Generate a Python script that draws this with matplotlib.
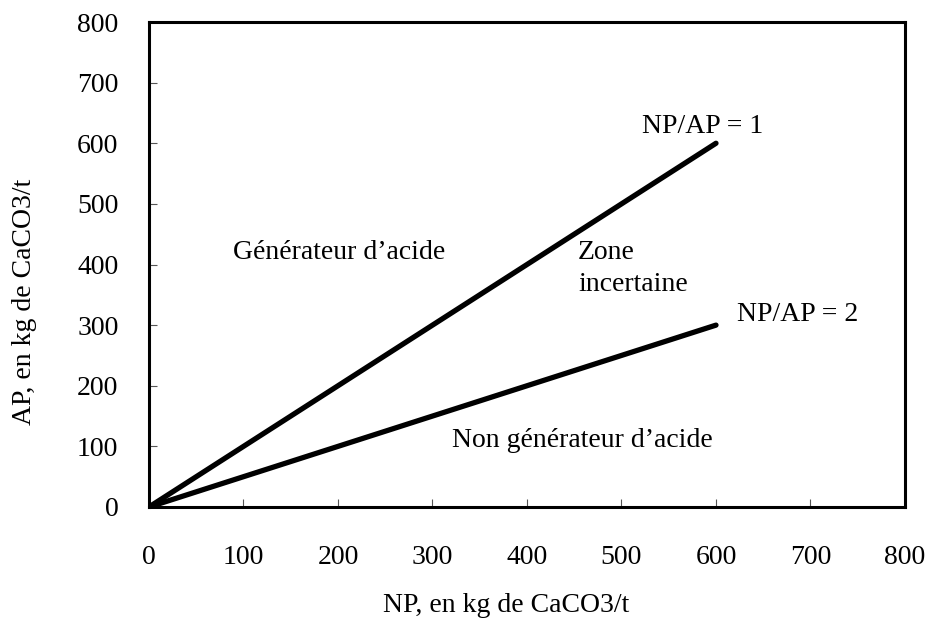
import matplotlib
matplotlib.use("Agg")
import matplotlib.pyplot as plt

# Data
np_vals = [0, 600]
ap_ratio1 = [0, 600]   # NP/AP = 1
ap_ratio2 = [0, 300]   # NP/AP = 2
x_ticks = [0, 100, 200, 300, 400, 500, 600, 700, 800]
y_ticks = [0, 100, 200, 300, 400, 500, 600, 700, 800]

plt.rcParams['font.family'] = ['Liberation Serif', 'DejaVu Serif']
FS = 20

fig = plt.figure(figsize=(9.29, 6.20), dpi=100)
ax = fig.add_axes([149/929, 1-507/620, (905-149)/929, (507-22)/620])

ax.plot(np_vals, ap_ratio1, color='black', lw=3.8, solid_capstyle='round')
ax.plot(np_vals, ap_ratio2, color='black', lw=3.8, solid_capstyle='round')

ax.set_xlim(0, 800)
ax.set_ylim(0, 800)
ax.set_xticks(x_ticks)
ax.set_yticks(y_ticks)
ax.tick_params(axis='both', direction='in', length=6, width=0.8, color='#555555',
               labelsize=FS, top=False, right=False)
ax.tick_params(axis='x', pad=27)
ax.tick_params(axis='y', pad=22)
for s in ax.spines.values():
    s.set_linewidth(2.2)
    s.set_color('black')

ax.text(89, 419, "Générateur d’acide", fontsize=FS, ha='left', va='center')
ax.text(454, 393, "Zone\nincertaine", fontsize=FS, ha='left', va='center', linespacing=1.35)
ax.text(321, 110, "Non générateur d’acide", fontsize=FS, ha='left', va='center')
ax.text(650, 627, "NP/AP = 1", fontsize=FS, ha='right', va='center')
ax.text(622, 317, "NP/AP = 2", fontsize=FS, ha='left', va='center')

fig.text(25/929, 1-302/620, "AP, en kg de CaCO3/t", rotation=90, fontsize=FS,
         ha='center', va='center')
fig.text(506/929, 1-606/620, "NP, en kg de CaCO3/t", fontsize=FS,
         ha='center', va='center')

fig.savefig("out.png", dpi=100)
